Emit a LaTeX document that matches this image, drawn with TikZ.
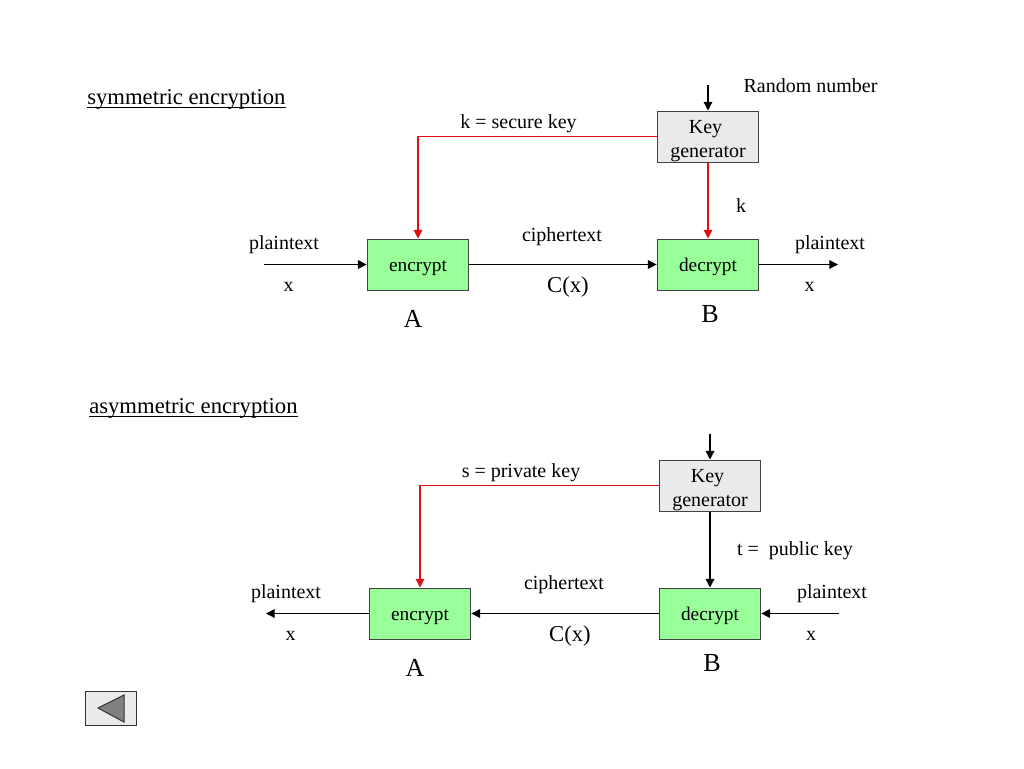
\documentclass[tikz,border=0pt]{standalone}
\usepackage{fontspec}
\setmainfont{Liberation Serif}
\usetikzlibrary{arrows.meta}
\definecolor{boxgreen}{HTML}{99FF99}
\definecolor{boxgrey}{HTML}{EAEAEA}
\definecolor{keyred}{HTML}{E01010}
\newcommand\oneline[1]{\raisebox{-5.25pt}[0pt][0pt]{#1}}
\newcommand\twolines[2]{\makebox[0pt]{\raisebox{2.3pt}[0pt][0pt]{#1\hspace{3.75pt}}}\makebox[0pt]{\raisebox{-15.7pt}[0pt][0pt]{#2}}}
\newcommand\ulbox[1]{\setbox0=\hbox{#1}\rlap{\rule[-2.6pt]{\wd0}{0.8pt}}\box0}
\tikzset{
  px/.style={x=0.75pt,y=-0.75pt},
  block/.style={draw=black!75,line width=0.75pt,minimum width=76.3pt,minimum height=38.25pt,inner sep=0pt,font=\fontsize{14.5}{18}\selectfont},
  greenblock/.style={block,fill=boxgreen},
  greyblock/.style={block,fill=boxgrey,font=\fontsize{15}{18}\selectfont},
  lbl/.style={inner sep=0pt,anchor=base,font=\fontsize{15}{18}\selectfont},
  big/.style={inner sep=0pt,anchor=base,font=\fontsize{17}{20}\selectfont},
  party/.style={inner sep=0pt,anchor=base,font=\fontsize{19.5}{23}\selectfont},
  flow/.style={draw=black,line width=0.9pt,-{Triangle[length=6.5pt,width=6.5pt]}},
  keyflow/.style={draw=keyred,line width=0.8pt,-{Triangle[length=6.5pt,width=6.5pt]}},
}
\begin{document}
\begin{tikzpicture}[px]
\useasboundingbox (0,0) rectangle (1024,768);
% symmetric
\node[big,anchor=base west] (t1) at (87,104.5) {\ulbox{symmetric encryption}};
\node[greenblock] (enc1) at (418,264.5) {\oneline{encrypt}};
\node[greenblock] (dec1) at (708,264.5) {\oneline{decrypt}};
\node[greyblock] (key1) at (708,136.5) {\twolines{Key}{generator}};
\coordinate (in1) at (264,264.5);
\coordinate (out1) at (838,264.5);
\coordinate (top1) at (708,85);
\draw[flow] (in1) -- (enc1);
\draw[flow] (enc1) -- (dec1);
\draw[flow] (dec1) -- (out1);
\draw[flow] (top1) -- (key1);
\draw[keyflow] (key1) -- (dec1);
\draw[keyflow] (key1.west) -| (enc1.north);
\node[lbl] (rn1) at (810.5,92.5) {Random number};
\node[lbl] (sk1) at (518.5,128) {k = secure key};
\node[lbl] (k1) at (741,212) {k};
\node[lbl] (ct1) at (562,241) {ciphertext};
\node[big] (cx1) at (568,292) {C(x)};
\node[lbl] (pl1) at (284,249.5) {plaintext};
\node[lbl] (xl1) at (288.5,291) {x};
\node[lbl] (pr1) at (830,249.5) {plaintext};
\node[lbl] (xr1) at (809.5,291) {x};
\node[party] (a1) at (413,327.5) {A};
\node[party] (b1) at (710,322.5) {B};
% asymmetric
\node[big,anchor=base west] (t2) at (89,413.5) {\ulbox{asymmetric encryption}};
\node[greenblock] (enc2) at (420,613.5) {\oneline{encrypt}};
\node[greenblock] (dec2) at (710,613.5) {\oneline{decrypt}};
\node[greyblock] (key2) at (710,485.5) {\twolines{Key}{generator}};
\coordinate (out2) at (266,613.5);
\coordinate (in2) at (839,613.5);
\coordinate (top2) at (710,434);
\draw[flow] (enc2) -- (out2);
\draw[flow] (dec2) -- (enc2);
\draw[flow] (in2) -- (dec2);
\draw[flow] (top2) -- (key2);
\draw[flow] (key2) -- (dec2);
\draw[keyflow] (key2.west) -| (enc2.north);
\node[lbl] (sk2) at (521,477) {s = private key};
\node[lbl] (tk2) at (795,555) {t =\ \ public key};
\node[lbl] (ct2) at (564,589.5) {ciphertext};
\node[big] (cx2) at (570,641) {C(x)};
\node[lbl] (pl2) at (286,598.5) {plaintext};
\node[lbl] (xl2) at (290.5,640) {x};
\node[lbl] (pr2) at (832,598.5) {plaintext};
\node[lbl] (xr2) at (811,640) {x};
\node[party] (a2) at (415,676.5) {A};
\node[party] (b2) at (712,671.5) {B};
% back button
\draw[draw=black!80,line width=0.75pt,fill=boxgrey] (85,691) rectangle (136,725);
\draw[draw=black!80,line width=0.75pt,fill=black!50] (98,708) -- (124,695) -- (124,722) -- cycle;
\end{tikzpicture}
\end{document}
